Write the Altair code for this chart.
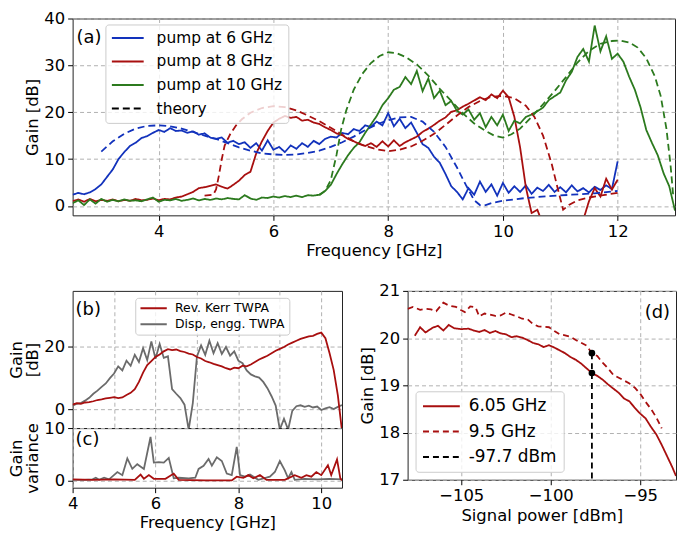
import numpy as np
import pandas as pd
import altair as alt

FONT = "DejaVu Sans"
BLUE = "#1232bc"
RED = "#a80f0f"
GREEN = "#2c7a1e"
GRAY = "#6b6b6b"

# ---------------- panel (a): measured gain vs frequency ----------------
freq_a = np.round(np.arange(2.5, 12.0001, 0.1), 1)
freq_a_wide = np.round(np.arange(2.5, 13.0001, 0.1), 1)

gain_pump6 = [
    2.4, 2.8, 2.5, 2.9, 3.6, 4.6, 6.2, 7.8, 10.0, 11.5,
    12.8, 13.5, 14.5, 14.9, 15.6, 16.2, 15.8, 16.6, 16.0, 16.1,
    15.6, 15.9, 15.2, 15.5, 14.6, 14.3, 14.6, 13.5, 13.9, 13.2,
    13.6, 12.4, 13.4, 11.8, 14.0, 12.0, 12.6, 11.5, 12.9, 12.2,
    13.4, 12.6, 13.9, 13.2, 14.3, 14.8, 14.6, 15.6, 15.3, 16.4,
    16.0, 17.2, 16.9, 18.0, 17.2, 19.8, 17.0, 18.6, 16.6, 17.8,
    15.6, 13.2, 12.4, 10.5, 9.2, 6.8, 4.2, 3.0, 1.4, 3.8,
    2.4, 5.2, 3.0, 4.6, 2.2, 4.9, 2.8, 4.2, 3.0, 4.4,
    2.6, 3.9, 3.2, 4.5, 3.0, 4.0, 2.9, 4.4, 3.1, 3.8,
    2.9, 4.1, 3.4, 4.4, 3.6, 9.5,
]
gain_pump8 = [
    1.0, 1.4, 0.9, 1.5, 1.0, 1.3, 1.1, 1.4, 1.0, 1.3,
    1.1, 1.5, 1.2, 1.3, 1.6, 1.2, 1.5, 1.4, 1.8, 2.0,
    2.5, 3.0, 3.8, 4.0, 4.3, 4.6, 4.1, 3.7, 4.5, 5.4,
    6.6, 7.3, 11.2, 13.8, 16.0, 17.8, 18.6, 19.2, 18.8, 19.0,
    18.2, 18.4, 17.8, 17.5, 16.8, 16.2, 15.5, 15.1, 14.3, 13.8,
    13.2, 12.8, 13.4, 12.6, 13.8, 12.7, 14.0, 12.8, 13.6, 14.2,
    14.8, 15.8, 16.5, 17.3, 18.2, 18.9, 20.1, 20.4, 21.2, 21.8,
    22.5, 23.2, 22.6, 23.8, 23.0, 24.6, 23.2, 19.0, 12.5, 4.0,
    -1.5, -0.8, -4.0, -5.0, -5.0, -5.0, -5.0, -5.0, -5.0, -3.0,
    1.0, 3.8, 2.0, 5.8, 3.5, 5.6,
]
gain_pump10 = [
    0.6, 1.2, 0.2, 1.4, 0.5, 1.5, 0.9, 1.3, 1.0, 1.4,
    1.1, 1.2, 1.0, 1.4, 1.8, 0.9, 1.3, 1.2, 1.5, 1.1,
    1.3, 1.6, 1.2, 1.5, 1.3, 1.6, 1.4, 1.7, 1.5, 1.4,
    2.3, 1.6, 1.3, 1.8, 1.7, 2.0, 1.8, 2.1, 1.9, 2.2,
    1.9, 2.3, 2.2, 2.4, 3.2, 4.5, 6.8, 8.9, 10.8, 12.4,
    13.6, 15.6, 17.4, 19.2, 21.5, 23.0, 24.8, 25.4, 27.5, 26.0,
    28.8, 24.5, 27.2, 23.0, 24.6, 21.5, 22.4, 20.3, 19.5, 20.6,
    18.4, 19.8, 16.8, 19.0, 17.2, 19.5, 16.0, 18.2, 17.6, 19.0,
    19.5, 20.2, 21.0, 22.6, 23.4, 24.2, 26.8, 28.6, 31.8, 33.5,
    30.8, 38.5, 33.0, 36.2, 31.4, 32.5, 30.8, 27.6, 24.8, 21.0,
    16.2, 13.4, 10.8, 7.0, 4.2, -1.0,
]

# theory curves (dashed)
theory6_freq = [3.0, 3.2, 3.4, 3.6, 3.8, 4.0, 4.2, 4.4, 4.6, 4.8, 5.0, 5.2, 5.4, 5.6, 5.8,
                6.0, 6.2, 6.4, 6.6, 6.8, 7.0, 7.2, 7.4, 7.6, 7.8, 8.0, 8.2, 8.4, 8.6, 8.8,
                9.0, 9.2, 9.35, 9.5, 9.6, 9.7, 9.8, 10.0, 10.4, 10.8, 11.2, 11.6, 12.0]
theory6_gain = [11.6, 13.8, 15.4, 16.5, 17.1, 17.2, 17.0, 16.5, 15.8, 15.0, 14.3, 13.4, 12.5, 11.8, 11.2,
                11.0, 10.9, 11.0, 11.3, 11.8, 12.6, 13.6, 14.8, 16.2, 17.4, 18.3, 18.9, 19.0, 18.0, 15.8,
                12.6, 8.2, 4.6, 1.2, 0.2, 0.2, 0.6, 1.1, 1.7, 2.1, 2.4, 2.7, 3.2]
theory8_freq = [4.8, 4.95, 5.0, 5.05, 5.1, 5.15, 5.25, 5.35, 5.45, 5.6, 5.8, 6.0, 6.2, 6.4, 6.6,
                6.8, 7.0, 7.2, 7.4, 7.6, 7.8, 8.0, 8.2, 8.4, 8.6, 8.8, 9.0, 9.2, 9.4, 9.6,
                9.8, 10.0, 10.2, 10.4, 10.55, 10.7, 10.85, 10.95, 11.05, 11.15, 11.3, 11.5, 11.75, 12.0]
theory8_gain = [2.2, 2.4, 3.5, 6.5, 10.0, 12.9, 15.4, 17.2, 18.5, 19.9, 20.9, 21.3, 21.1, 20.4, 19.3,
                18.1, 16.7, 15.2, 13.8, 12.8, 12.1, 11.7, 12.0, 12.7, 13.9, 15.4, 17.3, 19.3, 21.1, 22.4,
                23.3, 23.5, 23.0, 21.4, 19.0, 15.0, 9.0, 4.0, -0.8, 0.2, 1.2, 1.8, 2.3, 2.8]
theory10_freq = [6.8, 6.9, 7.0, 7.1, 7.18, 7.27, 7.4, 7.55, 7.7, 7.85, 8.0, 8.15, 8.3, 8.5, 8.7,
                 8.9, 9.1, 9.3, 9.5, 9.7, 9.85, 10.0, 10.15, 10.3, 10.5, 10.7, 10.9, 11.1, 11.3, 11.5,
                 11.7, 11.9, 12.05, 12.2, 12.35, 12.5, 12.65, 12.75, 12.85, 12.92, 12.97]
theory10_gain = [2.3, 3.2, 5.5, 10.9, 16.3, 20.4, 24.8, 28.2, 30.5, 32.0, 32.8, 32.6, 31.8, 30.2, 27.8,
                 25.0, 22.4, 19.8, 17.6, 16.0, 15.0, 14.6, 15.3, 16.5, 19.0, 21.7, 24.5, 27.5, 30.6, 33.1,
                 34.6, 35.2, 35.3, 34.9, 33.8, 31.5, 27.6, 23.5, 16.5, 9.0, 2.0]

series_a = ["pump at 6 GHz", "pump at 8 GHz", "pump at 10 GHz", "theory"]

# ---------------- panel (b): gain of the two amplifiers ----------------
freq_b = np.round(np.arange(4.0, 10.5001, 0.1), 1)
gain_kerr = [
    1.5, 2.0, 1.8, 2.2, 2.3, 2.6, 3.0, 3.2, 3.5, 3.7,
    3.9, 3.6, 3.8, 4.6, 5.3, 6.5, 8.8, 11.8, 14.2, 15.5,
    16.8, 17.6, 18.6, 19.3, 19.0, 19.2, 18.7, 18.4, 17.9, 17.6,
    16.8, 16.3, 15.5, 15.1, 14.6, 14.2, 13.8, 13.2, 12.8, 13.4,
    13.2, 14.0, 13.8, 14.4, 15.2, 16.0, 16.6, 17.2, 18.0, 18.8,
    19.4, 20.0, 20.8, 21.4, 22.0, 22.6, 23.0, 23.4, 23.6, 24.2,
    24.6, 22.8, 18.0, 12.6, 4.5, -7.0,
]
gain_disp = [
    1.2, 1.8, 2.0, 2.8, 3.7, 5.0, 6.0, 7.2, 8.3, 10.0,
    11.5, 13.8, 12.5, 15.6, 14.0, 17.5, 15.2, 19.6, 15.8, 21.8,
    16.2, 21.0, 16.5, 17.0, 6.5, 5.0, 3.6, 1.5, -6.5, 2.0,
    17.0, 20.5, 17.5, 22.0, 18.0, 21.2, 17.8, 20.0, 17.2, 18.6,
    15.6, 14.8, 12.5, 11.2, 10.6, 10.2, 8.8, 6.8, 4.2, 1.2,
    -6.5, -3.0, -6.5, -0.5, 1.0, 1.3, 0.8, 1.2, 0.6, 0.9,
    -0.2, 0.3, 0.7, 0.1, 0.8, 1.4,
]
devices_b = ["Rev. Kerr TWPA", "Disp, engg. TWPA"]

# ---------------- panel (c): gain variance ----------------
var_disp_freq = [4.0, 4.3, 4.48, 4.56, 4.64, 4.76, 4.88, 5.08, 5.2, 5.32, 5.44, 5.56, 5.72, 5.88,
                 5.96, 6.08, 6.2, 6.32, 6.44, 6.56, 6.8, 6.96, 7.04, 7.16, 7.28, 7.36, 7.48, 7.6,
                 7.72, 7.84, 7.96, 8.04, 8.16, 8.28, 8.48, 8.76, 8.88, 9.0, 9.12, 9.2, 9.28, 9.36,
                 9.6, 9.9, 10.2, 10.5]
var_disp = [0.1, 0.1, 0.2, 0.5, 0.1, 0.5, 0.2, 1.6, 1.0, 4.2, 2.2, 3.1, 2.2, 8.3,
            3.4, 3.5, 3.4, 4.3, 0.4, 0.5, 0.4, 0.5, 2.2, 2.8, 4.1, 2.8, 4.4, 3.7,
            1.3, 1.0, 6.4, 1.0, 0.7, 1.1, 0.1, 0.7, 1.6, 3.7, 1.9, 0.4, 1.6, 0.1,
            0.3, 0.2, 0.3, 0.2]
var_kerr_freq = [4.0, 4.5, 5.0, 5.5, 5.64, 5.72, 5.84, 5.96, 6.24, 6.44, 6.56, 7.2, 7.84, 7.96,
                 8.12, 8.24, 8.36, 8.52, 8.68, 9.12, 9.36, 9.52, 9.64, 9.76, 9.88, 10.0, 10.16,
                 10.24, 10.38, 10.46, 10.5]
var_kerr = [0.2, 0.1, 0.2, 0.1, 1.1, 0.3, 1.0, 0.3, 0.3, 1.3, 0.1, 0.0, 0.0, 0.7,
            0.5, 1.0, 0.4, 1.0, 0.1, 0.1, 1.0, 0.5, 1.0, 0.7, 1.6, 1.0, 2.9,
            1.0, 4.0, 0.4, 0.0]

# ---------------- panel (d): gain compression ----------------
power_605 = [-107.6, -107.3, -107.0, -106.6, -106.3, -106.0, -105.7, -105.4, -105.0, -104.6,
             -104.3, -104.0, -103.7, -103.4, -103.1, -102.8, -102.5, -102.2, -101.9, -101.6,
             -101.3, -101.0, -100.7, -100.4, -100.1, -99.8, -99.5, -99.2, -98.9, -98.6,
             -98.3, -98.0, -97.7, -97.4, -97.1, -96.8, -96.5, -96.2, -95.9, -95.6,
             -95.3, -95.0, -94.7, -94.4, -94.1, -93.8, -93.5, -93.2, -93.0]
gain_605 = [20.05, 20.23, 20.12, 20.22, 20.26, 20.16, 20.28, 20.21, 20.19, 20.20,
            20.16, 20.13, 20.17, 20.11, 20.15, 20.10, 20.08, 20.02, 20.04, 20.01,
            19.96, 19.90, 19.87, 19.81, 19.85, 19.80, 19.74, 19.68, 19.60, 19.54,
            19.46, 19.36, 19.26, 19.20, 19.12, 19.02, 18.93, 18.84, 18.72, 18.66,
            18.52, 18.40, 18.30, 18.12, 17.96, 17.74, 17.50, 17.26, 17.08]
power_95 = [-108.0, -107.7, -107.3, -107.0, -106.7, -106.4, -106.0, -105.7, -105.3, -105.0,
            -104.8, -104.5, -104.2, -104.0, -103.7, -103.4, -103.1, -102.8, -102.5, -102.2,
            -101.9, -101.6, -101.3, -101.0, -100.7, -100.4, -100.1, -99.8, -99.5, -99.2,
            -98.9, -98.6, -98.3, -98.0, -97.7, -97.4, -97.1, -96.8, -96.5, -96.2,
            -95.9, -95.6, -95.3, -95.0, -94.7, -94.4, -94.1, -93.8]
gain_95 = [20.62, 20.66, 20.60, 20.62, 20.61, 20.57, 20.75, 20.69, 20.66, 20.59,
           20.55, 20.67, 20.65, 20.46, 20.52, 20.50, 20.47, 20.48, 20.54, 20.50,
           20.46, 20.41, 20.40, 20.30, 20.25, 20.24, 20.23, 20.15, 20.08, 20.06,
           20.03, 19.96, 19.90, 19.84, 19.68, 19.62, 19.48, 19.36, 19.22, 19.16,
           19.10, 19.04, 18.95, 18.82, 18.65, 18.50, 18.32, 18.09]
marker_power = [-97.7, -97.7]
marker_gain = [19.68, 19.26]
traces_d = ["6.05 GHz", "9.5 GHz", "-97.7 dBm"]

# ---------------- layout sizes ----------------
A_W, A_H = 606, 198
B_W, B_H = 271, 138
C_H = 60
D_W, D_H = 270, 190

# ---------------- tables ----------------
df_meas = pd.concat([
    pd.DataFrame({"freq": freq_a, "gain": gain_pump6, "series": series_a[0]}),
    pd.DataFrame({"freq": freq_a, "gain": gain_pump8, "series": series_a[1]}),
    pd.DataFrame({"freq": freq_a_wide, "gain": gain_pump10, "series": series_a[2]}),
], ignore_index=True)
df_theory = pd.concat([
    pd.DataFrame({"freq": theory6_freq, "gain": theory6_gain, "series": series_a[0]}),
    pd.DataFrame({"freq": theory8_freq, "gain": theory8_gain, "series": series_a[1]}),
    pd.DataFrame({"freq": theory10_freq, "gain": theory10_gain, "series": series_a[2]}),
], ignore_index=True)

df_kerr = pd.DataFrame({"freq": freq_b, "gain": gain_kerr, "device": devices_b[0]})
df_disp = pd.DataFrame({"freq": freq_b, "gain": gain_disp, "device": devices_b[1]})
df_var_disp = pd.DataFrame({"freq": var_disp_freq, "var": var_disp})
df_var_kerr = pd.DataFrame({"freq": var_kerr_freq, "var": var_kerr})

df_d = pd.concat([
    pd.DataFrame({"power": power_605, "gain": gain_605, "trace": traces_d[0]}),
    pd.DataFrame({"power": power_95, "gain": gain_95, "trace": traces_d[1]}),
], ignore_index=True)
df_marker = pd.DataFrame({"power": marker_power, "gain": marker_gain})
df_marker_top = df_marker.iloc[[0]]


def label(text, x, y, align="left"):
    return alt.Chart(pd.DataFrame({"t": [text]})).mark_text(
        align=align, baseline="middle", font=FONT, fontSize=18, color="black"
    ).encode(x=alt.value(x), y=alt.value(y), text="t:N")


def legend(**kw):
    base = dict(title=None, symbolType="stroke", symbolStrokeWidth=2, labelFont=FONT,
                labelColor="black", labelLimit=400, fillColor="rgba(255,255,255,0.8)",
                strokeColor="#cccccc", cornerRadius=3)
    base.update(kw)
    return alt.Legend(**base)


# ---------------- panel (a) ----------------
x_a = alt.X("freq:Q", scale=alt.Scale(domain=[2.5, 13], nice=False, zero=False),
            axis=alt.Axis(values=[4, 6, 8, 10, 12], title="Frequency [GHz]"))
y_a = alt.Y("gain:Q", scale=alt.Scale(domain=[-2, 40], nice=False, zero=False),
            axis=alt.Axis(values=[0, 10, 20, 30, 40], title=["", "Gain [dB]"]))
leg_a = legend(orient="none", legendX=33, legendY=6, symbolSize=1024, labelFontSize=15.5,
               labelOffset=12, clipHeight=16, rowPadding=6.7, padding=5.5)
col_a = alt.Scale(domain=series_a, range=[BLUE, RED, GREEN, "#000000"])
dash_a = alt.Scale(domain=series_a, range=[[1, 0], [1, 0], [1, 0], [7, 4]])

meas_a = alt.Chart(df_meas).mark_line(strokeWidth=1.8, clip=True).encode(
    x=x_a, y=y_a,
    color=alt.Color("series:N", scale=col_a, legend=leg_a),
    strokeDash=alt.StrokeDash("series:N", scale=dash_a, legend=leg_a),
)
theory_a = alt.Chart(df_theory).mark_line(strokeWidth=1.8, clip=True, strokeDash=[7, 4]).encode(
    x=x_a, y=y_a,
    color=alt.Color("series:N", scale=col_a, legend=leg_a),
)
panel_a = alt.layer(meas_a, theory_a, label("(a)", 4, 20)).properties(width=A_W, height=A_H)

# ---------------- panel (b) ----------------
x_b = alt.X("freq:Q", scale=alt.Scale(domain=[4, 10.5], nice=False, zero=False),
            axis=alt.Axis(values=[5, 6, 7, 8, 9, 10], labels=False, ticks=False, title=None))
y_b = alt.Y("gain:Q", scale=alt.Scale(domain=[-6, 38], nice=False, zero=False),
            axis=alt.Axis(values=[0, 20], title=["Gain", "[dB]"]))
leg_b = legend(orient="none", legendX=63, legendY=7, symbolSize=700, labelFontSize=12.5,
               labelOffset=7, clipHeight=13, rowPadding=3, padding=4)
col_b = alt.Scale(domain=devices_b, range=[RED, GRAY])
disp_b = alt.Chart(df_disp).mark_line(strokeWidth=1.8, clip=True).encode(
    x=x_b, y=y_b, color=alt.Color("device:N", scale=col_b, legend=leg_b))
kerr_b = alt.Chart(df_kerr).mark_line(strokeWidth=1.8, clip=True).encode(
    x=x_b, y=y_b, color=alt.Color("device:N", scale=col_b, legend=leg_b))
panel_b = alt.layer(disp_b, kerr_b, label("(b)", 3, 19)).properties(width=B_W, height=B_H)

# ---------------- panel (c) ----------------
x_c = alt.X("freq:Q", scale=alt.Scale(domain=[4, 10.5], nice=False, zero=False),
            axis=alt.Axis(values=[4, 6, 8, 10], title="Frequency [GHz]"))
y_c = alt.Y("var:Q", scale=alt.Scale(domain=[-1.4, 10], nice=False, zero=False),
            axis=alt.Axis(values=[0, 10], title=["Gain", "variance"]))
vd = alt.Chart(df_var_disp).mark_line(strokeWidth=1.8, color=GRAY, clip=True).encode(x=x_c, y=y_c)
vk = alt.Chart(df_var_kerr).mark_line(strokeWidth=1.8, color=RED, clip=True).encode(x=x_c, y=y_c)
panel_c = alt.layer(vd, vk, label("(c)", 3, 12)).properties(width=B_W, height=C_H)

# ---------------- panel (d) ----------------
x_d = alt.X("power:Q", scale=alt.Scale(domain=[-108, -93], nice=False, zero=False),
            axis=alt.Axis(values=[-105, -100, -95], title="Signal power [dBm]"))
y_d = alt.Y("gain:Q", scale=alt.Scale(domain=[17, 21], nice=False, zero=False),
            axis=alt.Axis(values=[17, 18, 19, 20, 21], title="Gain [dB]"))
leg_d = legend(orient="bottom-left", offset=8, symbolSize=1369, labelFontSize=17,
               labelOffset=8, clipHeight=17, rowPadding=7.5, padding=6.5)
col_d = alt.Scale(domain=traces_d, range=[RED, RED, "#000000"])
dash_d = alt.Scale(domain=traces_d, range=[[1, 0], [6, 4], [6, 4]])
lines_d = alt.Chart(df_d).mark_line(strokeWidth=1.8, clip=True).encode(
    x=x_d, y=y_d,
    color=alt.Color("trace:N", scale=col_d, legend=leg_d),
    strokeDash=alt.StrokeDash("trace:N", scale=dash_d, legend=leg_d),
)
rule_d = alt.Chart(df_marker_top).mark_rule(strokeWidth=1.8, strokeDash=[6, 4], color="black").encode(
    x=x_d, y=y_d, y2=alt.value(D_H))
dots_d = alt.Chart(df_marker).mark_circle(size=45, color="black", opacity=1).encode(x=x_d, y=y_d)
panel_d = alt.layer(lines_d, rule_d, dots_d, label("(d)", D_W - 6, 22, align="right")).properties(
    width=D_W, height=D_H)

# ---------------- assembly ----------------
ind = dict(color="independent", strokeDash="independent")
bc = alt.vconcat(panel_b, panel_c, spacing=0, bounds="flush").resolve_scale(**ind).resolve_legend(**ind)
row = alt.hconcat(bc, panel_d, spacing=16).resolve_scale(**ind).resolve_legend(**ind)
chart = alt.vconcat(panel_a, row, spacing=22).resolve_scale(**ind).resolve_legend(**ind).properties(
    padding=0
).configure_view(stroke="#222222", strokeWidth=1).configure_axis(
    labelFont=FONT, labelFontSize=16.5, labelColor="black", labelFlush=False,
    titleFont=FONT, titleFontSize=16.5, titleFontWeight="normal", titleColor="black",
    titlePadding=3, labelPadding=3, tickSize=5, tickColor="black", domain=False,
    gridColor="#b0b0b0", gridDash=[4, 3], gridWidth=1, titleLineHeight=16,
)

chart.save("out.html", embed_options={"renderer": "svg", "actions": False})
